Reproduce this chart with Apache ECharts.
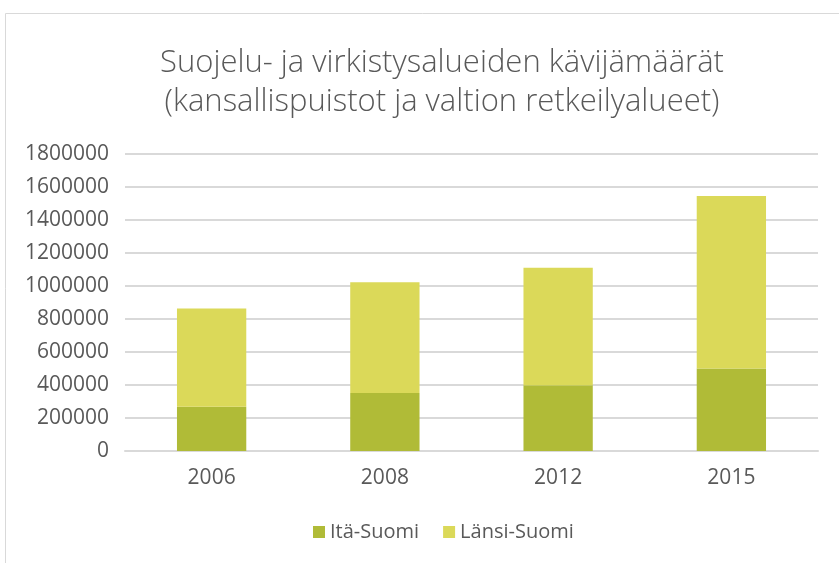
<!DOCTYPE html>
<html>
<head>
<meta charset="utf-8">
<script src="https://cdn.jsdelivr.net/npm/echarts@6/dist/echarts.min.js"></script>
<style>
html, body { margin: 0; padding: 0; background: #fff; }
#container { width: 839px; height: 563px; }
</style>
</head>
<body>
<div id="container"></div>
<script>
var years = ['2006', '2008', '2012', '2015'];
var itaSuomi = [268000, 352000, 399000, 500000];
var lansiSuomi = [595000, 670000, 712000, 1046000];

var dom = document.getElementById("container");
var myChart = echarts.init(dom);
var textColor = '#595959';
var font = 'Open Sans';

var option = {
    animation: false,
    graphic: [{
        type: 'rect',
        shape: { x: 5.5, y: 13.5, width: 900, height: 600 },
        style: { fill: 'none', stroke: '#d9d9d9', lineWidth: 1 }
    }, {
        type: 'text',
        x: 442,
        y: 44,
        style: {
            text: 'Suojelu- ja virkistysalueiden kävijämäärät\n(kansallispuistot ja valtion retkeilyalueet)',
            fill: textColor,
            font: '300 31px "Open Sans"',
            textAlign: 'center',
            lineHeight: 39
        }
    }],
    legend: {
        data: ['Itä-Suomi', 'Länsi-Suomi'],
        top: 517,
        left: 308,
        itemWidth: 12,
        itemHeight: 12,
        itemGap: 24,
        icon: 'rect',
        textStyle: { color: textColor, fontSize: 20, fontFamily: font }
    },
    grid: { left: 125, right: 21, top: 154, bottom: 112 },
    xAxis: {
        type: 'category',
        data: years,
        axisLine: { lineStyle: { color: '#d9d9d9', width: 2 } },
        axisTick: { show: false },
        axisLabel: { color: textColor, fontSize: 21, fontFamily: font, margin: 17 }
    },
    yAxis: {
        type: 'value',
        min: 0,
        max: 1800000,
        interval: 200000,
        axisLine: { show: false },
        axisTick: { show: false },
        splitLine: { lineStyle: { color: '#d9d9d9', width: 2 } },
        axisLabel: {
            color: textColor, fontSize: 21, fontFamily: font, margin: 16,
            formatter: function (v) { return String(v); }
        }
    },
    series: [{
        name: 'Itä-Suomi',
        type: 'bar',
        stack: 'total',
        barWidth: '40%',
        data: itaSuomi,
        itemStyle: { color: '#b0bb37' }
    }, {
        name: 'Länsi-Suomi',
        type: 'bar',
        stack: 'total',
        data: lansiSuomi,
        itemStyle: { color: '#dbd959' }
    }]
};
myChart.setOption(option, true);
</script>
</body>
</html>
